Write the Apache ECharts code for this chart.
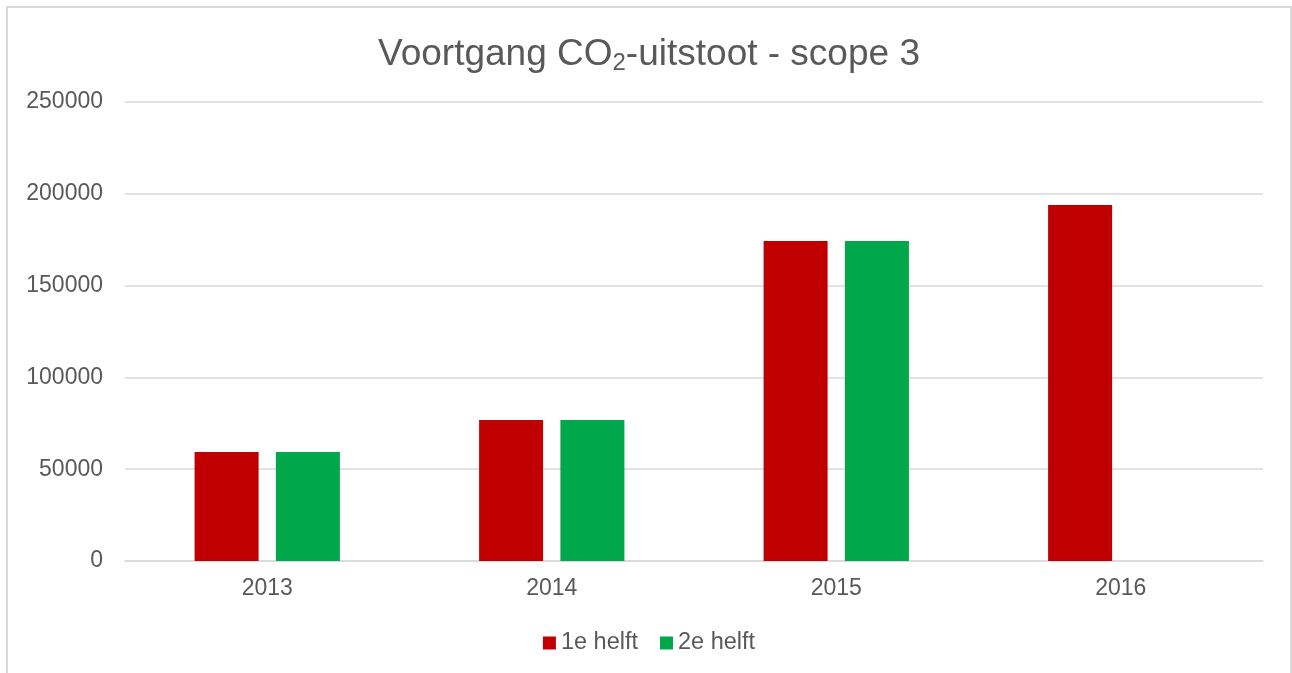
<!DOCTYPE html>
<html>
<head>
<meta charset="utf-8">
<script src="https://cdn.jsdelivr.net/npm/echarts@6/dist/echarts.min.js"></script>
<style>
  html, body { margin: 0; padding: 0; background: #fff; }
  #chart { box-sizing: border-box; border-left: 2px solid #d9d9d9; border-top: 2px solid #d9d9d9; border-right: 2px solid #d9d9d9; margin-left: 6px; margin-top: 6px; width: 1286px; height: 667px; }
</style>
</head>
<body>
<div id="chart"></div>
<script>
// jaren en waarden
var years = ['2013', '2014', '2015', '2016'];
var helft1 = [59400, 76800, 174300, 193900];
var helft2 = [59400, 76800, 174300, null];
var yTicks = [0, 50000, 100000, 150000, 200000, 250000];

var chart = echarts.init(document.getElementById('chart'));

var option = {
    animation: false,
    title: {
        left: 'center',
        top: 20,
        text: '{a|Voortgang CO}{s|2}{a|-uitstoot - scope 3}',
        textStyle: {
            fontWeight: 'normal',
            rich: {
                a: { fontFamily: 'Liberation Sans', fontSize: 37, fontWeight: 'normal', color: '#595959', lineHeight: 44 },
                s: { fontFamily: 'Liberation Sans', fontSize: 24, fontWeight: 'normal', color: '#595959', lineHeight: 44, padding: [16, 0, 0, 0] }
            }
        }
    },
    legend: {
        top: 618,
        left: 'center',
        itemWidth: 13,
        itemHeight: 13,
        itemGap: 22,
        icon: 'rect',
        textStyle: { fontFamily: 'Liberation Sans', fontSize: 23.5, color: '#595959' },
        data: ['1e helft', '2e helft']
    },
    grid: {
        left: 117,
        right: 27,
        top: 94,
        bottom: 112
    },
    xAxis: {
        type: 'category',
        data: years,
        axisLine: { lineStyle: { color: '#d9d9d9', width: 1.5 } },
        axisTick: { show: false },
        axisLabel: { fontFamily: 'Liberation Sans', fontSize: 23, color: '#595959', margin: 16 }
    },
    yAxis: {
        type: 'value',
        min: yTicks[0],
        max: yTicks[yTicks.length - 1],
        interval: 50000,
        axisLine: { show: false },
        axisTick: { show: false },
        splitLine: { lineStyle: { color: '#d9d9d9', width: 1.5 } },
        axisLabel: {
            fontFamily: 'Liberation Sans', fontSize: 23, color: '#595959', margin: 22,
            formatter: function (v) { return String(v); }
        }
    },
    series: [
        {
            name: '1e helft',
            type: 'bar',
            data: helft1,
            barWidth: '22.5%',
            barGap: '27%',
            itemStyle: { color: '#c00000' }
        },
        {
            name: '2e helft',
            type: 'bar',
            data: helft2,
            barWidth: '22.5%',
            itemStyle: { color: '#00a84b' }
        }
    ]
};

chart.setOption(option);
</script>
</body>
</html>
